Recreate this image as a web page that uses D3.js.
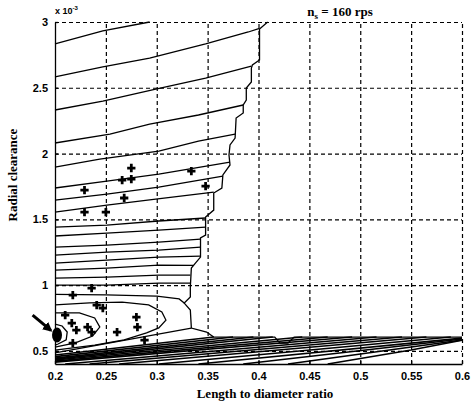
<!DOCTYPE html>
<html>
<head>
<meta charset="utf-8">
<script src="https://cdn.jsdelivr.net/npm/d3@7"></script>
<style>
  body { margin: 0; background: #fff; }
</style>
</head>
<body>
<div id="chart"></div>
<script>
// Marcas de los ejes
const xTicks = [0.2, 0.25, 0.3, 0.35, 0.4, 0.45, 0.5, 0.55, 0.6];
const yTicks = [0.5, 1, 1.5, 2, 2.5, 3];

// Curvas de nivel de la zona superior ([L/D, holgura x1e-3])
const upperContours = [
  [[0.2, 2.833], [0.247, 2.932], [0.293, 3.0]],
  [[0.2, 2.582], [0.247, 2.658], [0.293, 2.726], [0.348, 2.833], [0.39, 2.924], [0.401, 2.952]],
  [[0.2, 2.331], [0.247, 2.399], [0.299, 2.49], [0.348, 2.574], [0.393, 2.665]],
  [[0.2, 2.08], [0.254, 2.148], [0.293, 2.224], [0.341, 2.293], [0.385, 2.369]],
  [[0.2, 1.897], [0.244, 1.958], [0.302, 2.019], [0.341, 2.095], [0.377, 2.148]],
  [[0.2, 1.738], [0.251, 1.791], [0.302, 1.844], [0.372, 1.935]],
  [[0.2, 1.646], [0.251, 1.692], [0.302, 1.745], [0.365, 1.829]],
  [[0.2, 1.555], [0.251, 1.608], [0.299, 1.654], [0.356, 1.707]],
  [[0.2, 1.441], [0.251, 1.456], [0.302, 1.487], [0.348, 1.51]],
  [[0.2, 1.373], [0.251, 1.395], [0.302, 1.418], [0.348, 1.441]],
  [[0.2, 1.289], [0.251, 1.304], [0.302, 1.327], [0.343, 1.35]],
  [[0.2, 1.228], [0.251, 1.251], [0.302, 1.266], [0.343, 1.289]],
  [[0.2, 1.167], [0.251, 1.19], [0.302, 1.213], [0.343, 1.22]],
  [[0.2, 1.114], [0.251, 1.129], [0.302, 1.152], [0.336, 1.15]],
  [[0.2, 1.053], [0.251, 1.061], [0.302, 1.076], [0.333, 1.076]],
  [[0.2, 1.0], [0.251, 1.0], [0.302, 1.015], [0.333, 1.015]],
];

// Curvas en forma de C alrededor del óptimo
const lowerContours = [
  [[0.2, 0.93], [0.25, 0.926], [0.3, 0.916], [0.322, 0.895], [0.327, 0.863]],
  [[0.2, 0.849], [0.234, 0.864], [0.266, 0.871], [0.292, 0.849], [0.305, 0.795], [0.309, 0.734],
   [0.302, 0.674], [0.29, 0.636], [0.268, 0.583], [0.239, 0.544], [0.2, 0.506]],
  [[0.2, 0.788], [0.224, 0.788], [0.239, 0.75], [0.244, 0.681], [0.237, 0.613], [0.22, 0.56], [0.2, 0.529]],
  [[0.2, 0.704], [0.207, 0.689], [0.212, 0.643], [0.211, 0.583], [0.203, 0.552], [0.2, 0.544]],
  [[0.334, 0.673], [0.2, 0.484]],
];

// Abanico de curvas de la parte inferior
const fanLines = [
  [[0.2, 0.468], [0.356, 0.605]],
  [[0.2, 0.456], [0.375, 0.605]],
  [[0.2, 0.445], [0.395, 0.605]],
  [[0.2, 0.437], [0.414, 0.605]],
  [[0.2, 0.43], [0.443, 0.605]],
  [[0.2, 0.422], [0.468, 0.605]],
  [[0.2, 0.414], [0.492, 0.605]],
  [[0.21, 0.4], [0.516, 0.605]],
  [[0.234, 0.4], [0.541, 0.605]],
  [[0.263, 0.4], [0.565, 0.605]],
  [[0.302, 0.4], [0.589, 0.605]],
  [[0.341, 0.4], [0.6, 0.597]],
  [[0.385, 0.4], [0.6, 0.59]],
  [[0.429, 0.4], [0.6, 0.582]],
  [[0.468, 0.4], [0.55, 0.506], [0.6, 0.58]],
];

// Borde escalonado de la región factible
const feasibleEdge = [
  [0.409, 3.0], [0.401, 2.947], [0.401, 2.711], [0.394, 2.673], [0.393, 2.65], [0.393, 2.544],
  [0.388, 2.498], [0.388, 2.407], [0.385, 2.369], [0.385, 2.308], [0.378, 2.27], [0.377, 2.118],
  [0.372, 2.065], [0.371, 1.989], [0.372, 1.913], [0.365, 1.837], [0.364, 1.738], [0.356, 1.7],
  [0.356, 1.57], [0.348, 1.517], [0.348, 1.38], [0.343, 1.358], [0.343, 1.213], [0.338, 1.167],
  [0.334, 1.129], [0.333, 0.985], [0.333, 0.909], [0.327, 0.863], [0.333, 0.81], [0.334, 0.673],
  [0.349, 0.643], [0.356, 0.605], [0.416, 0.605], [0.421, 0.559], [0.429, 0.559], [0.435, 0.605],
  [0.6, 0.605],
];

// Puntos de diseño (+)
const designPoints = [
  [0.229, 1.722], [0.275, 1.89], [0.266, 1.798], [0.275, 1.806], [0.334, 1.867], [0.348, 1.753],
  [0.268, 1.662], [0.229, 1.555], [0.25, 1.555],
  [0.2175, 0.924], [0.236, 0.977], [0.241, 0.848], [0.247, 0.825], [0.21, 0.772], [0.2165, 0.711],
  [0.221, 0.658], [0.232, 0.681], [0.236, 0.643], [0.2175, 0.559], [0.261, 0.643], [0.28, 0.757],
  [0.281, 0.681], [0.288, 0.582],
];

// Óptimo y flecha que lo señala
const optimum = [0.202, 0.62];
const arrowLine = [[0.178, 0.772], [0.196, 0.655]];

const generateChart = () => {
  const margin = { top: 22, right: 9, bottom: 43, left: 55 };
  const width = 471 - margin.left - margin.right;
  const height = 407 - margin.top - margin.bottom;

  const svg = d3
    .select('#chart')
    .append('svg')
    .attr('width', 471)
    .attr('height', 407)
    .style('background', '#fff');

  const defs = svg.append('defs');
  defs
    .append('marker')
    .attr('id', 'head')
    .attr('viewBox', '0 0 10 10')
    .attr('refX', 8)
    .attr('refY', 5)
    .attr('markerWidth', 3.2)
    .attr('markerHeight', 3.2)
    .attr('orient', 'auto')
    .append('path')
    .attr('d', 'M0,0L10,5L0,10Z')
    .attr('fill', '#000');

  const chart = svg.append('g').attr('transform', `translate(${margin.left},${margin.top})`);

  const xScale = d3.scaleLinear().domain([0.2, 0.6]).range([0, width]);
  const yScale = d3.scaleLinear().domain([0.4, 3]).range([height, 0]);

  // Grilla punteada
  chart
    .append('g')
    .call(d3.axisLeft(yScale).tickValues(yTicks).tickSize(-width).tickFormat(''))
    .call((s) => s.select('.domain').remove())
    .selectAll('line')
    .attr('stroke', '#000')
    .attr('stroke-width', 1.2)
    .attr('stroke-dasharray', '4,3');
  chart
    .append('g')
    .attr('transform', `translate(0,${height})`)
    .call(d3.axisBottom(xScale).tickValues(xTicks.slice(1)).tickSize(-height).tickFormat(''))
    .call((s) => s.select('.domain').remove())
    .selectAll('line')
    .attr('stroke', '#000')
    .attr('stroke-width', 1.2)
    .attr('stroke-dasharray', '4,3');

  const line = d3
    .line()
    .x((d) => xScale(d[0]))
    .y((d) => yScale(d[1]));

  const lines = chart.append('g').attr('fill', 'none').attr('stroke', '#000').attr('stroke-width', 1.3);
  [...upperContours, ...lowerContours, feasibleEdge].forEach((c) => {
    lines.append('path').attr('d', line(c));
  });
  fanLines.forEach((c) => {
    lines.append('path').attr('d', line(c)).attr('stroke-width', 1.6);
  });

  // Marcadores +
  chart
    .append('g')
    .selectAll('path')
    .data(designPoints)
    .enter()
    .append('path')
    .attr('transform', (d) => `translate(${xScale(d[0])},${yScale(d[1])})`)
    .attr('d', d3.symbol(d3.symbolCross, 38))
    .attr('fill', '#000');

  // Ejes
  const xAxis = chart
    .append('g')
    .attr('transform', `translate(0,${height})`)
    .call(
      d3.axisBottom(xScale).tickValues(xTicks).tickSize(-3).tickSizeOuter(0).tickPadding(8)
        .tickFormat((d) => String(d))
    );
  const yAxis = chart
    .append('g')
    .call(
      d3.axisLeft(yScale).tickValues(yTicks).tickSize(-3).tickSizeOuter(0).tickPadding(7)
        .tickFormat((d) => String(d))
    );
  [xAxis, yAxis].forEach((a) => {
    a.selectAll('path, line').attr('stroke', '#000').attr('stroke-width', 1.3);
    a.selectAll('text')
      .attr('fill', '#000')
      .style('font-family', '"Liberation Sans", Arial, sans-serif')
      .style('font-weight', 'bold')
      .style('font-size', '11px');
  });

  // Óptimo
  chart
    .append('ellipse')
    .attr('cx', xScale(optimum[0]))
    .attr('cy', yScale(optimum[1]))
    .attr('rx', 5)
    .attr('ry', 7.5)
    .attr('fill', '#000');

  chart
    .append('path')
    .attr('d', line(arrowLine))
    .attr('stroke', '#000')
    .attr('stroke-width', 3)
    .attr('marker-end', 'url(#head)');

  // Textos
  const serif = '"Liberation Serif", "Times New Roman", serif';
  const title = svg
    .append('text')
    .attr('x', 340)
    .attr('y', 16)
    .style('text-anchor', 'middle')
    .style('font-family', serif)
    .style('font-weight', 'bold')
    .style('font-size', '13px');
  title.append('tspan').text('n');
  title.append('tspan').attr('dy', 3).style('font-size', '9px').text('s');
  title.append('tspan').attr('dy', -3).text(' = 160 rps');

  const exp = svg
    .append('text')
    .attr('x', 55)
    .attr('y', 14)
    .style('font-family', '"Liberation Sans", Arial, sans-serif')
    .style('font-weight', 'bold')
    .style('font-size', '9px');
  exp.append('tspan').text('x 10');
  exp.append('tspan').attr('dy', -4).style('font-size', '6px').text('-3');

  svg
    .append('text')
    .attr('x', 265)
    .attr('y', 398)
    .style('text-anchor', 'middle')
    .style('font-family', serif)
    .style('font-weight', 'bold')
    .style('font-size', '13px')
    .text('Length to diameter ratio');

  svg
    .append('text')
    .attr('transform', 'translate(17,175) rotate(-90)')
    .style('text-anchor', 'middle')
    .style('font-family', serif)
    .style('font-weight', 'bold')
    .style('font-size', '13px')
    .text('Radial clearance');
};

generateChart();
</script>
</body>
</html>
